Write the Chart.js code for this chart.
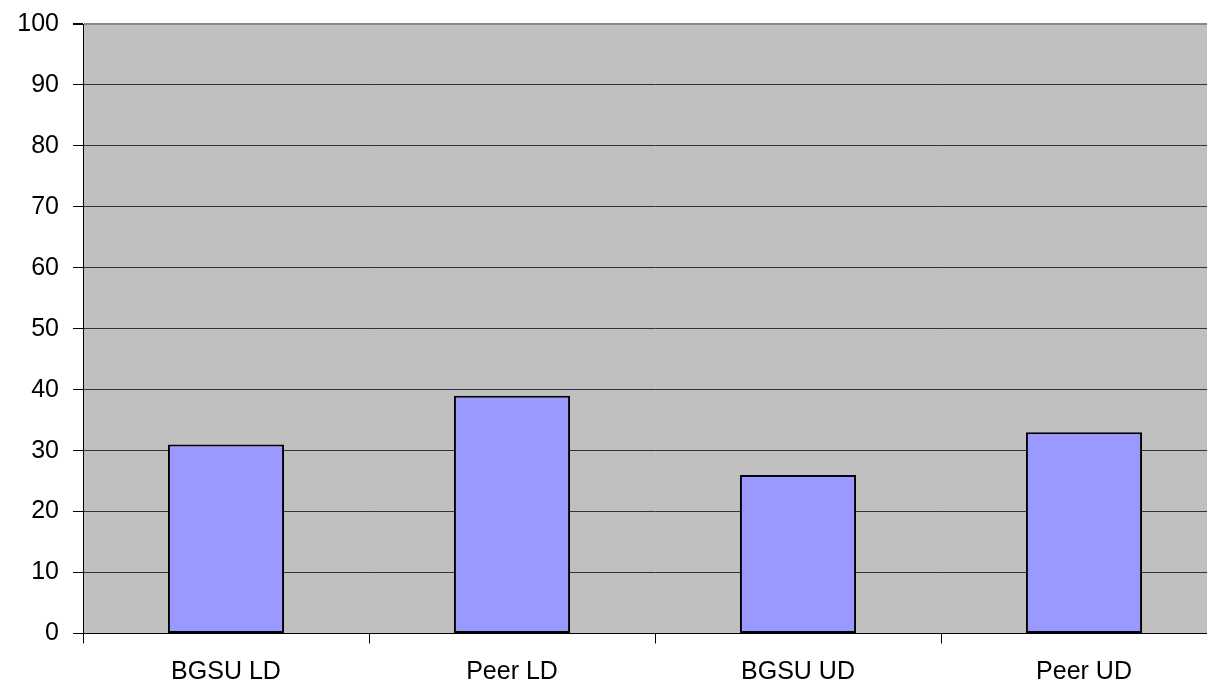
<!DOCTYPE html>
<html>
<head>
<meta charset="utf-8">
<script src="https://cdn.jsdelivr.net/npm/chart.js@4/dist/chart.umd.min.js"></script>
<style>
html,body{margin:0;padding:0;background:#fff;overflow:hidden;}
#wrap{width:1227px;height:695px;position:relative;margin-top:-5px;}
</style>
</head>
<body>
<div id="wrap"><canvas id="c"></canvas></div>
<script>
const categories = ['BGSU LD', 'Peer LD', 'BGSU UD', 'Peer UD'];
const values = [31, 39, 26, 33];
const yMin = 0, yMax = 100, yStep = 10;

const bgPlugin = {
  id: 'plotBg',
  beforeDraw(chart) {
    const {ctx, chartArea: a} = chart;
    ctx.save();
    ctx.fillStyle = '#C0C0C0';
    ctx.fillRect(a.left, a.top, a.right - a.left, a.bottom - a.top);
    ctx.restore();
  }
};

Chart.defaults.font.family = '"Liberation Sans", Arial, sans-serif';
Chart.defaults.color = '#000';

new Chart(document.getElementById('c'), {
  type: 'bar',
  data: {
    labels: categories,
    datasets: [{
      data: values,
      backgroundColor: '#9999FF',
      borderColor: '#000',
      borderWidth: 2,
      borderSkipped: false,
      categoryPercentage: 1,
      barPercentage: 0.406
    }]
  },
  options: {
    responsive: true,
    maintainAspectRatio: false,
    animation: false,
    devicePixelRatio: 1,
    layout: { padding: 0 },
    plugins: { legend: { display: false }, tooltip: { enabled: false } },
    scales: {
      x: {
        offset: true,
        grid: { display: true, offset: true, drawOnChartArea: false, color: '#000', tickLength: 10, tickColor: '#000' },
        border: { display: true, color: '#000', width: 1 },
        ticks: { font: { size: 25 }, padding: 14, color: '#000' },
        afterFit(s) { s.height = 56.5; }
      },
      y: {
        min: yMin, max: yMax,
        ticks: { stepSize: yStep, font: { size: 25 }, padding: 14, color: '#000' },
        grid: {
          color: (c) => (c.tick && c.tick.value === yMax ? '#888' : '#333'),
          lineWidth: (c) => (c.tick && c.tick.value === yMax ? 2 : 1),
          tickLength: 10, tickColor: '#000'
        },
        border: { display: true, color: '#000', width: 1 },
        afterFit(s) { s.width = 83; }
      }
    }
  },
  plugins: [bgPlugin]
});
</script>
</body>
</html>
